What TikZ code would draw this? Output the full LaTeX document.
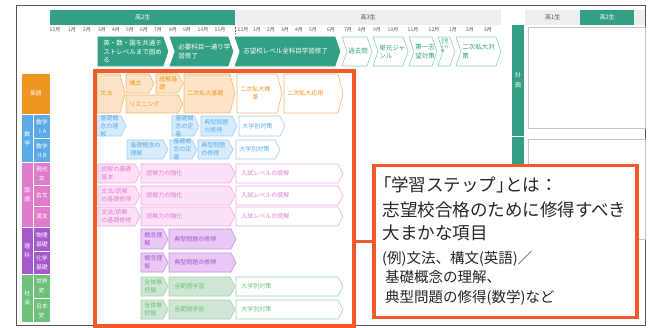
\documentclass[tikz,border=0pt]{standalone}
\usepackage{fontspec}
\setmainfont{Noto Sans CJK JP}

\definecolor{tealg}{HTML}{34A083}
\definecolor{tealline}{HTML}{8ED0BD}
\definecolor{hdrgray}{HTML}{EEEEEE}
\definecolor{txtgray}{HTML}{555555}
\definecolor{panelgray}{HTML}{C4C4C4}
\definecolor{orngR}{HTML}{F15A29}
\definecolor{engC}{HTML}{F0951F}
\definecolor{engF}{HTML}{FDE4C6}
\definecolor{engD}{HTML}{F6B66C}
\definecolor{mathC}{HTML}{5BABEA}
\definecolor{mathF}{HTML}{D6ECFC}
\definecolor{mathD}{HTML}{9FCDF2}
\definecolor{japC}{HTML}{DF7DCC}
\definecolor{japF}{HTML}{FCE0F6}
\definecolor{japD}{HTML}{F1AAE2}
\definecolor{sciC}{HTML}{A758CA}
\definecolor{sciF}{HTML}{E8C9F6}
\definecolor{sciD}{HTML}{C68FE2}
\definecolor{socC}{HTML}{6EC17B}
\definecolor{socF}{HTML}{D0E6D4}
\definecolor{socD}{HTML}{A3D3AB}

\tikzset{
  stepfont/.style={font=\fontsize{6}{8}\selectfont},
  engstep/.style={fill=engF,draw=engD,text=engC,line width=0.6pt,stepfont},
  engopen/.style={engstep,fill=white},
  mathstep/.style={fill=mathF,draw=mathD,text=mathC,line width=0.6pt,stepfont},
  mathopen/.style={mathstep,fill=white},
  japstep/.style={fill=japF,draw=japD,text=japC,line width=0.6pt,stepfont},
  japopen/.style={japstep,fill=white},
  scistep/.style={fill=sciF,draw=sciD,text=sciC,line width=0.6pt,stepfont},
  socstep/.style={fill=socF,draw=socD,text=socC,line width=0.6pt,stepfont},
  socopen/.style={socstep,fill=white},
  milestone/.style={fill=tealg,draw=tealg,text=white,line width=0.6pt,font=\fontsize{6.5}{8.3}\selectfont},
  milestoneopen/.style={milestone,fill=white,draw=tealline,text=tealg},
  subjcell/.style={draw=white,line width=0.6pt,text=white,inner sep=0pt,anchor=north west,align=center,font=\fontsize{5.8}{9}\selectfont},
  hdrbar/.style={inner sep=0pt,anchor=north west,minimum height=15pt,font=\fontsize{6}{7}\selectfont},
  monthlbl/.style={text=txtgray,inner sep=0pt,font=\fontsize{5}{5}\selectfont},
  bigline/.style={anchor=base west,inner sep=0pt,text=black!85,font=\fontsize{17.5}{24}\selectfont},
  smallline/.style={anchor=base west,inner sep=0pt,text=black!85,font=\fontsize{14.5}{19}\selectfont},
}

% chevron: [notch]{style}{name}{x left}{y top}{x right}{y bottom}{text}
\newcommand{\stepchev}[8][0]{%
  \pgfmathsetmacro{\ymid}{(#5+#7)/2}%
  \pgfmathsetmacro{\padx}{ifthenelse(#6-#4>60,5,3)}%
  \pgfmathsetmacro{\xtxt}{#4+0.6*#1+\padx}%
  \filldraw[#2] (#4,#5) -- ({#6-5},#5) -- (#6,\ymid) -- ({#6-5},#7) -- (#4,#7) -- ({#4+#1},\ymid) -- cycle;
  \node[#2,draw=none,fill=none,anchor=west,align=left,inner sep=0pt] (#3) at (\xtxt,\ymid) {#8};
}

\begin{document}
\begin{tikzpicture}[x=1pt,y=-1pt]
\useasboundingbox (0,0) rectangle (652,328);
\fill[white] (0,0) rectangle (652,328);
\draw[txtgray,line width=0.8pt] (16,5) rectangle (645,325);

\node[hdrbar,fill=tealg,text=white,minimum width=185pt] (hdrA) at (50,10) {高2生};
\node[hdrbar,fill=hdrgray,text=txtgray,minimum width=266pt] (hdrB) at (235,10) {高3生};
\draw[txtgray,densely dotted,line width=0.4pt] (235,27) -- (235,34);

\foreach \mx/\mlab [count=\mi] in {55/12月,72/1月,87/2月,102/3月,116/4月,130/5月,144/6月,158/7月,173/8月,187/9月,203/10月,220/11月}
  \node[monthlbl] (mA\mi) at (\mx,30) {\mlab};
\foreach \mx/\mlab [count=\mi] in {243/12月,257/1月,271/2月,285/3月,299/4月,313/5月,331/6月,348/7月,362/8月,377/9月,393/10月,413/11月,434/12月,453/1月,470/2月,488/3月}
  \node[monthlbl] (mB\mi) at (\mx,30) {\mlab};

\stepchev{milestone}{msA}{98}{37}{168}{66}{英・数・国を共通テ\\ストレベルまで固め\\る}
\stepchev[5]{milestone}{msB}{170}{37}{233}{66}{必要科目一通り学\\習修了}
\stepchev[5]{milestone}{msC}{235}{37}{340}{66}{志望校レベル全科目学習修了}
\stepchev[5]{milestoneopen}{msD}{342}{37}{372}{66}{過去問}
\stepchev[5]{milestoneopen}{msE}{373}{37}{408}{66}{単元ジャ\\ンル}
\stepchev[5]{milestoneopen}{msF}{409}{37}{437}{66}{第一志\\望対策}
\filldraw[milestoneopen] (438,37) -- (450,37) -- (455,51.5) -- (450,66) -- (438,66) -- (443,51.5) -- cycle;
\node[text=tealg,anchor=north west,align=left,inner sep=0pt,font=\fontsize{3.5}{3.8}\selectfont] (msG) at (441,38) {共通\\テス\\ト対\\策};
\stepchev[5]{milestoneopen}{msH}{456}{37}{501}{66}{二次私大対\\策}

\node[subjcell,fill=engC,minimum width=29pt,minimum height=41pt] (subjEng) at (21,73) {英語};
\node[subjcell,fill=mathC,minimum width=12pt,minimum height=48pt] (subjMath) at (21,114) {数\\学};
\node[subjcell,fill=mathC,minimum width=17pt,minimum height=24pt] (subjIA) at (33,114) {数学\\ⅠA};
\node[subjcell,fill=mathC,minimum width=17pt,minimum height=24pt] (subjIIB) at (33,138) {数学\\ⅡB};
\node[subjcell,fill=japC,minimum width=12pt,minimum height=65pt] (subjJap) at (21,162) {国\\語};
\node[subjcell,fill=japC,minimum width=17pt,minimum height=23pt] (subjGendai) at (33,162) {現代\\文};
\node[subjcell,fill=japC,minimum width=17pt,minimum height=21pt] (subjKobun) at (33,185) {古文};
\node[subjcell,fill=japC,minimum width=17pt,minimum height=21pt] (subjKanbun) at (33,206) {漢文};
\node[subjcell,fill=sciC,minimum width=12pt,minimum height=47pt] (subjSci) at (21,227) {理\\科};
\node[subjcell,fill=sciC,minimum width=17pt,minimum height=24pt] (subjPhys) at (33,227) {物理\\基礎};
\node[subjcell,fill=sciC,minimum width=17pt,minimum height=23pt] (subjChem) at (33,251) {化学\\基礎};
\node[subjcell,fill=socC,minimum width=12pt,minimum height=48pt] (subjSoc) at (21,274) {社\\会};
\node[subjcell,fill=socC,minimum width=17pt,minimum height=24pt] (subjWorld) at (33,274) {世界\\史};
\node[subjcell,fill=socC,minimum width=17pt,minimum height=24pt] (subjJapan) at (33,298) {日本\\史};

\stepchev{engstep}{enBunpo}{97}{74}{125}{113}{文法}
\stepchev{engstep}{enKobun}{126}{74}{154}{93}{構文}
\stepchev{engstep}{enDokkai}{156}{74}{183}{93}{読解基\\礎}
\stepchev{engstep}{enListen}{126}{95}{183}{113}{リスニング}
\stepchev{engstep}{enKiso}{184}{74}{235}{113}{二次私大基礎}
\stepchev{engopen}{enHyojun}{237}{74}{282}{113}{二次私大標\\\hspace*{12pt}準}
\stepchev{engopen}{enOyo}{284}{74}{343}{113}{二次私大応用}

\stepchev{mathstep}{maRikaiA}{97}{116}{126}{136}{基礎概\\念の理\\解}
\stepchev{mathstep}{maTeichakuA}{172}{116}{199}{136}{基礎概\\念の定\\着}
\stepchev{mathstep}{maTenkeiA}{201}{116}{237}{136}{典型問題\\の修得}
\stepchev{mathopen}{maTaisakuA}{239}{116}{285}{136}{大学別対策}
\stepchev{mathstep}{maRikaiB}{127}{140}{168}{159}{基礎概念の\\理解}
\stepchev{mathstep}{maTeichakuB}{170}{140}{197}{159}{基礎概\\念の定\\着}
\stepchev{mathstep}{maTenkeiB}{198}{140}{233}{159}{典型問題\\の修得}
\stepchev{mathopen}{maTaisakuB}{236}{140}{280}{159}{大学別対策}

\stepchev{japstep}{jaKisoG}{98}{164}{140}{183}{読解の基礎\\基本}
\stepchev{japstep}{jaKyokaG}{141}{164}{235}{183}{読解力の強化}
\stepchev{japopen}{jaNyushiG}{236}{164}{343}{183}{入試レベルの読解}
\stepchev{japstep}{jaKisoK}{98}{186}{140}{205}{文法/読解\\の基礎修得}
\stepchev{japstep}{jaKyokaK}{141}{186}{235}{205}{読解力の強化}
\stepchev{japopen}{jaNyushiK}{236}{186}{343}{205}{入試レベルの読解}
\stepchev{japstep}{jaKisoC}{98}{207}{140}{226}{文法/読解\\の基礎修得}
\stepchev{japstep}{jaKyokaC}{141}{207}{235}{226}{読解力の強化}
\stepchev{japopen}{jaNyushiC}{236}{207}{343}{226}{入試レベルの読解}

\stepchev{scistep}{scRikaiP}{141}{229}{168}{249}{概念理\\解}
\stepchev{scistep}{scTenkeiP}{169}{229}{236}{249}{典型問題の修得}
\stepchev{scistep}{scRikaiC}{141}{253}{168}{272}{概念理\\解}
\stepchev{scistep}{scTenkeiC}{169}{253}{236}{272}{典型問題の修得}

\stepchev{socstep}{soZentaiW}{141}{277}{168}{296}{全体像\\把握}
\stepchev{socstep}{soHaniW}{169}{277}{235}{296}{全範囲学習}
\stepchev{socopen}{soTaisakuW}{236}{277}{343}{296}{大学別対策}
\stepchev{socstep}{soZentaiJ}{141}{300}{168}{319}{全体像\\把握}
\stepchev{socstep}{soHaniJ}{169}{300}{235}{319}{全範囲学習}
\stepchev{socopen}{soTaisakuJ}{236}{300}{343}{319}{大学別対策}

\node[draw=orngR,line width=4pt,anchor=north west,minimum width=258.7pt,minimum height=255pt,inner sep=0pt] (stepframe) at (93,69) {};

\node[hdrbar,fill=hdrgray,text=txtgray,minimum width=55pt] (tabA) at (525,10) {高1生};
\node[hdrbar,fill=tealg,text=white,minimum width=54pt] (tabB) at (580,10) {高2生};
\fill[hdrgray] (634,10) rectangle (645,25);
\draw[panelgray,line width=1pt] (528,28) rectangle (645,129);
\draw[panelgray,line width=1pt] (528,140) rectangle (645,240);
\fill[tealg] (512,25) rectangle (524,250);
\draw[white,line width=1pt] (512,137) -- (524,137);
\node[text=white,align=center,inner sep=0pt,font=\fontsize{6}{10}\selectfont] (planlbl) at (518,80) {計\\画};

\node[draw=orngR,line width=3.5pt,fill=white,anchor=north west,minimum width=263pt,minimum height=152pt,inner sep=0pt] (callout) at (372.3,163.7) {};
\draw[orngR,line width=3.5pt] (stepframe.east |- callout.west) -- (callout.west);

\node[bigline] (callA) at (382.5,191.6) {\kern-0.45em「\kern-0.05em 学習ステップ」\kern-0.5em とは：};
\node[bigline] (callB) at (382.5,216.5) {志望校合格のために修得すべき};
\node[bigline] (callC) at (382.5,240) {大まかな項目};
\node[smallline] (callD) at (382,263.8) {(例)文法、構文(英語)／};
\node[smallline] (callE) at (385,282.2) {基礎概念の理解、};
\node[smallline] (callF) at (385,302.2) {典型問題の修得(数学)など};
\end{tikzpicture}
\end{document}
